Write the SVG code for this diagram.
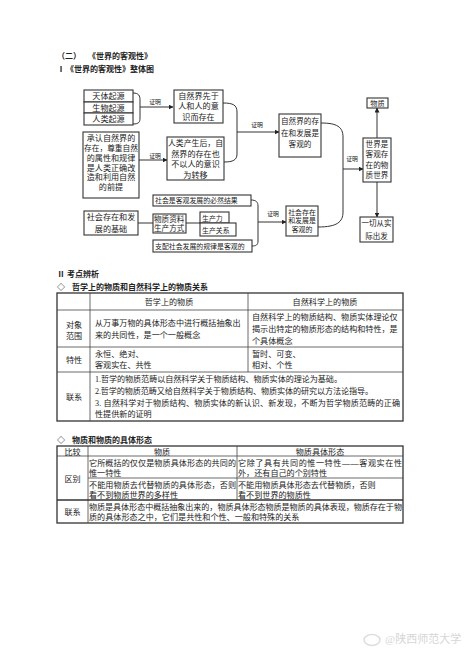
<svg xmlns="http://www.w3.org/2000/svg" width="474" height="651" viewBox="0 0 474 651">
<style>
text{font-family:"Liberation Serif","Noto Sans CJK SC",serif;fill:#222}
.b{fill:#fff;stroke:#333;stroke-width:1.1}
.t9{font-size:8.1px}
.t8{font-size:7.6px}
.t7{font-size:6.9px}
.lb{font-size:5.8px;text-anchor:middle}
.c{text-anchor:middle}
.ln{fill:none;stroke:#333;stroke-width:1}
.h{font-size:8px;font-weight:bold}
.tb{font-size:8.1px}
.tl{stroke:#444;stroke-width:0.8;fill:none}
.to{stroke:#333;stroke-width:1.3;fill:none}
</style>
<defs>
<marker id="ah" viewBox="0 0 10 10" refX="9" refY="5" markerWidth="5" markerHeight="5" orient="auto" markerUnits="userSpaceOnUse">
<path d="M0,0L10,5L0,10z" fill="#222"/>
</marker>
</defs>
<rect width="474" height="651" fill="#fff"/>

<g id="titles">
<text class="h" x="57" y="59">（二）</text>
<text class="h" x="88" y="59">《世界的客观性》</text>
<text class="h" x="57" y="72">Ⅰ</text>
<text class="h" x="66" y="72">《世界的客观性》整体图</text>
</g>

<g id="connectors">
<path class="ln" d="M133,93 C139,93 140,96 140,100 L140,118 C140,122 139,124 133,124"/>
<path class="ln" d="M140,107 L173,107" marker-end="url(#ah)"/>
<text class="lb" x="155" y="104">证明</text>
<path class="ln" d="M139,160 L167,160" marker-end="url(#ah)"/>
<text class="lb" x="155" y="158">证明</text>
<path class="ln" d="M223,103 C233,103 237,105 237,112 L237,154 C237,160 233,162 224,162"/>
<path class="ln" d="M237,132 L279,132" marker-end="url(#ah)"/>
<text class="lb" x="257" y="127">证明</text>
<path class="ln" d="M321,123 C337,123 343,127 343,137 L343,212 C343,222 337,227 318,227"/>
<path class="ln" d="M343,169 L363,169" marker-end="url(#ah)"/>
<text class="lb" x="352" y="161">证明</text>
<path class="ln" d="M377,138 L377,108" marker-end="url(#ah)"/>
<path class="ln" d="M377,182 L377,217" marker-end="url(#ah)"/>
<path class="ln" d="M138,223 L153,223"/>
<path class="ln" d="M186,223 L200,223"/>
<path class="ln" d="M251,200 C256,200 258,202 258,206 L258,241 C258,245 256,246 252,246"/>
<path class="ln" d="M258,222 L286,222" marker-end="url(#ah)"/>
<text class="lb" x="273" y="216">证明</text>
</g>

<g id="n-tianti"><rect class="b" x="84" y="90" width="49" height="12"/><text class="t9 c" x="108.5" y="99">天体起源</text></g>
<g id="n-shengwu"><rect class="b" x="84" y="102" width="49" height="11"/><text class="t9 c" x="108.5" y="110.5">生物起源</text></g>
<g id="n-renlei"><rect class="b" x="84" y="113" width="49" height="12"/><text class="t9 c" x="108.5" y="122">人类起源</text></g>

<g id="n-xianyu"><rect class="b" x="174" y="90" width="49" height="33"/>
<text class="t9 c" x="198.5" y="98.5">自然界先于</text><text class="t9 c" x="198.5" y="109">人和人的意</text><text class="t9 c" x="198.5" y="119.5">识而存在</text></g>

<g id="n-chengren"><rect class="b" x="83" y="132" width="56" height="66"/>
<text class="t9 c" x="111" y="141">承认自然界的</text>
<text class="t9 c" x="111" y="151" textLength="54" lengthAdjust="spacingAndGlyphs">存在，尊重自然</text>
<text class="t9 c" x="111" y="161">的属性和规律</text>
<text class="t9 c" x="111" y="170.5">是人类正确改</text>
<text class="t9 c" x="111" y="180">造和利用自然</text>
<text class="t9 c" x="111" y="190">的前提</text></g>

<g id="n-renlei2"><rect class="b" x="167" y="137" width="57" height="43"/>
<text class="t9 c" x="195.5" y="146" textLength="55" lengthAdjust="spacingAndGlyphs">人类产生后，自</text>
<text class="t9 c" x="195.5" y="157">然界的存在也</text>
<text class="t9 c" x="195.5" y="167">不以人的意识</text>
<text class="t9 c" x="195.5" y="178">为转移</text></g>

<g id="n-ziranjie"><rect class="b" x="279" y="114" width="42" height="43"/>
<text class="t8 c" x="300" y="124">自然界的存</text>
<text class="t8 c" x="300" y="135.5">在和发展是</text>
<text class="t8 c" x="300" y="147">客观的</text></g>

<g id="n-shijie"><rect class="b" x="363" y="138" width="28" height="44"/>
<text class="t8 c" x="377" y="146.5">世界是</text>
<text class="t8 c" x="377" y="157">客观存</text>
<text class="t8 c" x="377" y="167.5">在的物</text>
<text class="t8 c" x="377" y="178">质世界</text></g>

<g id="n-wuzhi"><rect class="b" x="367" y="98" width="21" height="10"/><text class="c" style="font-size:7.2px" x="377.5" y="106">物质</text></g>

<g id="n-yiqie"><rect class="b" x="360" y="217" width="33" height="25"/>
<text class="c" style="font-size:7.5px" x="376.5" y="226">一切从实</text>
<text class="c" style="font-size:7.5px" x="376.5" y="238.5">际出发</text></g>

<g id="n-shehuishi"><rect class="b" x="153" y="195" width="98" height="11"/><text class="t7" x="155" y="203">社会是客观发展的必然结果</text></g>

<g id="n-jichu"><rect class="b" x="84" y="211" width="54" height="24"/>
<text class="t9 c" x="111" y="220">社会存在和发</text>
<text class="t9 c" x="111" y="232">展的基础</text></g>

<g id="n-shengchan"><rect class="b" x="153" y="214" width="33" height="19"/>
<text class="t8" x="154" y="221.5">物质资料</text>
<text class="t8" x="154" y="231">生产方式</text></g>

<g id="n-shengchanli"><rect class="b" x="200" y="212" width="29" height="11"/><text class="t7" x="202" y="220.5">生产力</text></g>
<g id="n-guanxi"><rect class="b" x="200" y="223" width="36" height="13"/><text class="t7" x="202" y="232.5">生产关系</text></g>

<g id="n-zhipei"><rect class="b" x="153" y="240" width="99" height="12"/><text class="t7" x="155" y="248.5">支配社会发展的规律是客观的</text></g>

<g id="n-shehui"><rect class="b" x="286" y="206" width="32" height="30"/>
<text class="t7 c" x="302" y="214.5">社会存在</text>
<text class="t7 c" x="302" y="223">和发展是</text>
<text class="t7 c" x="302" y="232">客观的</text></g>

<g id="section2">
<text class="h" x="57" y="277">Ⅱ</text>
<text class="h" x="67" y="277">考点辨析</text>
<text class="h" x="57" y="290">◇</text>
<text class="h" x="72" y="290">哲学上的物质和自然科学上的物质关系</text>
</g>

<g id="table1">
<rect class="to" x="57" y="293" width="346" height="128"/>
<path class="tl" d="M90,293V421M248,293V372M57,310H403M57,347H403M57,372H403"/>
<text class="tb c" x="169" y="305">哲学上的物质</text>
<text class="tb c" x="325" y="305">自然科学上的物质</text>
<text class="tb c" x="74" y="328">对象</text>
<text class="tb c" x="74" y="339">范围</text>
<text class="tb" x="95" y="326">从万事万物的具体形态中进行概括抽象出</text>
<text class="tb" x="95" y="338">来的共同性，是一个一般概念</text>
<text class="tb" x="252" y="320">自然科学上的物质结构、物质实体理论仅</text>
<text class="tb" x="252" y="331.5">揭示出特定的物质形态的结构和特性，是</text>
<text class="tb" x="252" y="343.5">个具体概念</text>
<text class="tb c" x="74" y="363">特性</text>
<text class="tb" x="95" y="357">永恒、绝对、</text>
<text class="tb" x="95" y="368">客观实在、共性</text>
<text class="tb" x="252" y="357">暂时、可变、</text>
<text class="tb" x="252" y="368">相对、个性</text>
<text class="tb c" x="74" y="400">联系</text>
<text class="tb" x="95" y="382" textLength="247" lengthAdjust="spacing">1.哲学的物质范畴以自然科学关于物质结构、物质实体的理论为基础。</text>
<text class="tb" x="95" y="394" textLength="278" lengthAdjust="spacing">2.哲学的物质范畴又给自然科学关于物质结构、物质实体的研究以方法论指导。</text>
<text class="tb" x="95" y="406" textLength="305" lengthAdjust="spacing">3. 自然科学对于物质结构、物质实体的新认识、新发现，不断为哲学物质范畴的正确</text>
<text class="tb" x="95" y="417">性提供新的证明</text>
</g>

<g id="section3">
<text class="h" x="57" y="443">◇</text>
<text class="h" x="72" y="443">物质和物质的具体形态</text>
</g>

<g id="table2">
<rect class="to" x="57" y="446" width="346" height="77"/>
<path class="tl" d="M88,446V523M237,446V500M57,456H403M88,478H403"/>
<path class="to" d="M57,500H403"/>
<text class="tb c" x="72.5" y="454.5">比较</text>
<text class="tb c" x="162" y="454.5">物质</text>
<text class="tb c" x="320" y="454.5">物质具体形态</text>
<text class="tb c" x="72.5" y="482">区别</text>
<text class="tb" x="89" y="466" textLength="147" lengthAdjust="spacing">它所概括的仅仅是物质具体形态的共同的</text>
<text class="tb" x="89" y="476">惟一特性</text>
<text class="tb" x="238" y="466" textLength="164" lengthAdjust="spacing">它除了具有共同的惟一特性——客观实在性</text>
<text class="tb" x="238" y="476">外，还有自己的个别特性</text>
<text class="tb" x="89" y="488" textLength="147" lengthAdjust="spacing">不能用物质去代替物质的具体形态，否则</text>
<text class="tb" x="89" y="498">看不到物质世界的多样性</text>
<text class="tb" x="238" y="488">不能用物质具体形态去代替物质，否则</text>
<text class="tb" x="238" y="498">看不到世界的物质性</text>
<text class="tb c" x="72.5" y="515">联系</text>
<text class="tb" x="89" y="510" textLength="313" lengthAdjust="spacing">物质是具体形态中概括抽象出来的，物质具体形态物质是物质的具体表现，物质存在于物</text>
<text class="tb" x="89" y="520">质的具体形态之中，它们是共性和个性、一般和特殊的关系</text>
</g>

<g id="watermark">
<ellipse cx="372" cy="640" rx="8" ry="5.5" fill="none" stroke="#ddd" stroke-width="1.5"/>
<text x="385" y="643" style="font-size:11px;fill:#d6d6d6">@陕西师范大学</text>
</g>
</svg>
